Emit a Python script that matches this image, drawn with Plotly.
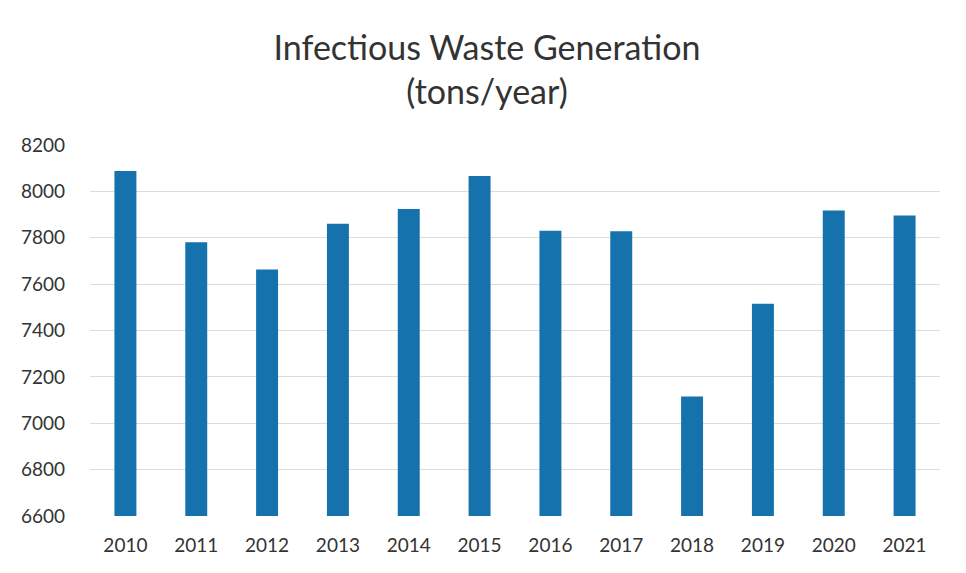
import plotly.graph_objects as go

years = ["2010", "2011", "2012", "2013", "2014", "2015", "2016", "2017", "2018", "2019", "2020", "2021"]
waste_tons = [8088, 7781, 7663, 7860, 7924, 8066, 7830, 7828, 7115, 7515, 7918, 7896]
y_ticks = [6600, 6800, 7000, 7200, 7400, 7600, 7800, 8000, 8200]

fig = go.Figure(
    go.Bar(
        x=years,
        y=waste_tons,
        marker=dict(color="#1572ad", line=dict(width=0)),
        width=0.31,
    )
)

fig.update_layout(
    width=958,
    height=565,
    paper_bgcolor="white",
    plot_bgcolor="white",
    margin=dict(l=82, r=26, t=137, b=57),
    title=dict(
        text="Infectious Waste Generation<br>(tons/year)",
        x=0.5,
        xanchor="center",
        y=1 - 52 / 565,
        yanchor="middle",
        font=dict(family="Lato", size=34, color="#333333"),
    ),
    font=dict(family="Lato", size=18, color="#333333"),
    showlegend=False,
)

fig.update_xaxes(
    type="category",
    showgrid=False,
    showline=False,
    ticks="",
    ticklabelstandoff=16,
    tickfont=dict(family="Lato", size=19, color="#333333"),
)
fig.update_yaxes(
    range=[6600, 8200],
    tickvals=y_ticks,
    ticktext=[str(v) for v in y_ticks],
    showgrid=True,
    gridcolor="#dcdcdc",
    gridwidth=1,
    zeroline=False,
    showline=False,
    ticks="",
    ticklabelstandoff=24,
    tickfont=dict(family="Lato", size=19, color="#333333"),
)

fig.write_html("out.html")
